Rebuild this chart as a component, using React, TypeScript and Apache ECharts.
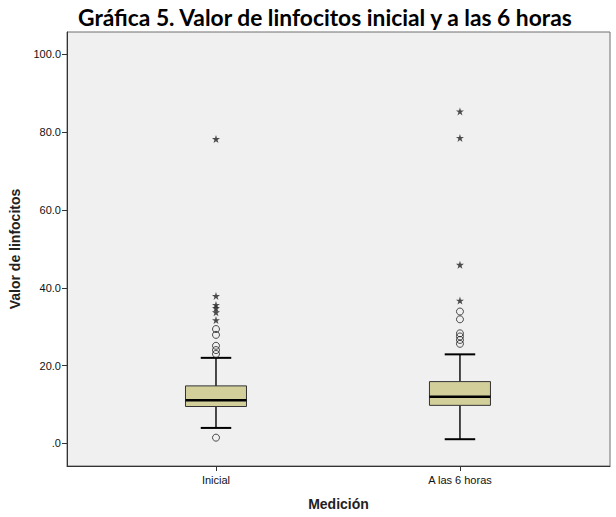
import React, { useEffect, useRef } from "react";
import * as echarts from "echarts";

// Measurement groups shown on the horizontal axis
const categories = ["Inicial", "A las 6 horas"];
// Box statistics per group: [lower whisker, Q1, median, Q3, upper whisker]
const boxStats = [
  [4.0, 9.5, 11.1, 14.8, 22.0],
  [1.1, 9.8, 12.0, 15.9, 22.9],
];
// Mild outliers (circles) per group
const mildOutliers = [
  [1.5, 23.0, 24.0, 25.1, 27.9, 29.4],
  [25.6, 26.6, 27.5, 28.3, 31.9, 33.9],
];
// Extreme outliers (stars) per group
const extremeOutliers = [
  [31.7, 33.7, 34.8, 35.6, 37.9, 78.2],
  [36.7, 45.9, 78.5, 85.3],
];
const yTicks = [0, 20, 40, 60, 80, 100];

const STAR =
  "path://M50,0 L61.8,35.3 L100,35.3 L69.1,57.1 L80.9,92.7 L50,70.8 L19.1,92.7 L30.9,57.1 L0,35.3 L38.2,35.3 Z";

export default function App() {
  const ref = useRef<HTMLDivElement>(null);

  useEffect(() => {
    if (!ref.current) return;
    const chart = echarts.init(ref.current, undefined, { renderer: "svg" });

    const boxData = boxStats.map((s, i) => [i + 1, ...s]);
    const circleData: number[][] = [];
    mildOutliers.forEach((arr, i) => arr.forEach((v) => circleData.push([i + 1, v])));
    const starData: number[][] = [];
    extremeOutliers.forEach((arr, i) => arr.forEach((v) => starData.push([i + 1, v])));

    chart.setOption({
      animation: false,
      backgroundColor: "#ffffff",
      title: {
        text: "Gráfica 5. Valor de linfocitos inicial y a las 6 horas",
        left: 73,
        top: 0,
        textStyle: {
          fontFamily: "Lato",
          fontWeight: "bold",
          fontSize: 22.8,
          color: "#000000",
        },
      },
      grid: {
        left: 67,
        top: 32,
        right: 6,
        bottom: 51,
        show: true,
        backgroundColor: "#f0f0f0",
        borderColor: "#6e6e6e",
        borderWidth: 1,
      },
      xAxis: {
        type: "value",
        min: 0.3893,
        max: 2.615,
        name: "Medición",
        nameLocation: "middle",
        nameGap: 31,
        nameTextStyle: {
          fontFamily: "Liberation Sans",
          fontWeight: "bold",
          fontSize: 14,
          color: "#222",
        },
        axisLine: { show: true, onZero: false, lineStyle: { color: "#333", width: 1 } },
        axisTick: {
          show: true,
          customValues: [1, 2],
          length: 5,
          lineStyle: { color: "#333" },
        },
        axisLabel: {
          customValues: [1, 2],
          formatter: (v: number) => categories[Math.round(v) - 1] ?? "",
          fontFamily: "Liberation Sans",
          fontSize: 11,
          color: "#111",
          margin: 8,
        },
        splitLine: { show: false },
      },
      yAxis: {
        type: "value",
        min: -5.78,
        max: 105.7,
        name: "Valor de linfocitos",
        nameLocation: "middle",
        nameGap: 45,
        nameTextStyle: {
          fontFamily: "Liberation Sans",
          fontWeight: "bold",
          fontSize: 14,
          color: "#222",
        },
        axisLine: { show: true, onZero: false, lineStyle: { color: "#333", width: 1 } },
        axisTick: {
          show: true,
          customValues: yTicks,
          length: 5,
          lineStyle: { color: "#333" },
        },
        axisLabel: {
          customValues: yTicks,
          formatter: (v: number) => (v === 0 ? ".0" : v.toFixed(1)),
          fontFamily: "Liberation Sans",
          fontSize: 11,
          color: "#111",
          margin: 6,
        },
        splitLine: { show: false },
      },
      series: [
        {
          type: "custom",
          data: boxData,
          encode: { x: 0, y: [1, 2, 3, 4, 5] },
          renderItem: (params: any, api: any) => {
            const x = api.value(0);
            const lo = api.coord([x, api.value(1)]);
            const q1 = api.coord([x, api.value(2)]);
            const med = api.coord([x, api.value(3)]);
            const q3 = api.coord([x, api.value(4)]);
            const hi = api.coord([x, api.value(5)]);
            const boxW = api.size([0.25, 0])[0];
            const capW = api.size([0.125, 0])[0];
            const cx = lo[0];
            const lineStyle = { stroke: "#000", lineWidth: 1.4 };
            return {
              type: "group",
              children: [
                { type: "line", shape: { x1: cx, y1: hi[1], x2: cx, y2: q3[1] }, style: lineStyle },
                { type: "line", shape: { x1: cx, y1: q1[1], x2: cx, y2: lo[1] }, style: lineStyle },
                {
                  type: "line",
                  shape: { x1: cx - capW / 2, y1: hi[1], x2: cx + capW / 2, y2: hi[1] },
                  style: { stroke: "#000", lineWidth: 2 },
                },
                {
                  type: "line",
                  shape: { x1: cx - capW / 2, y1: lo[1], x2: cx + capW / 2, y2: lo[1] },
                  style: { stroke: "#000", lineWidth: 2 },
                },
                {
                  type: "rect",
                  shape: { x: cx - boxW / 2, y: q3[1], width: boxW, height: q1[1] - q3[1] },
                  style: { fill: "#d3cf9b", stroke: "#333", lineWidth: 1 },
                },
                {
                  type: "line",
                  shape: { x1: cx - boxW / 2, y1: med[1], x2: cx + boxW / 2, y2: med[1] },
                  style: { stroke: "#000", lineWidth: 2.5 },
                },
              ],
            };
          },
          z: 2,
        },
        {
          type: "scatter",
          data: circleData,
          symbol: "circle",
          symbolSize: 7,
          itemStyle: { color: "transparent", borderColor: "#222", borderWidth: 1 },
          z: 3,
        },
        {
          type: "scatter",
          data: starData,
          symbol: STAR,
          symbolSize: 8,
          itemStyle: { color: "#222" },
          z: 3,
        },
      ],
    });

    return () => chart.dispose();
  }, []);

  return (
    <div
      ref={ref}
      style={{ position: "fixed", left: 0, top: 0, width: 616, height: 517 }}
    />
  );
}
